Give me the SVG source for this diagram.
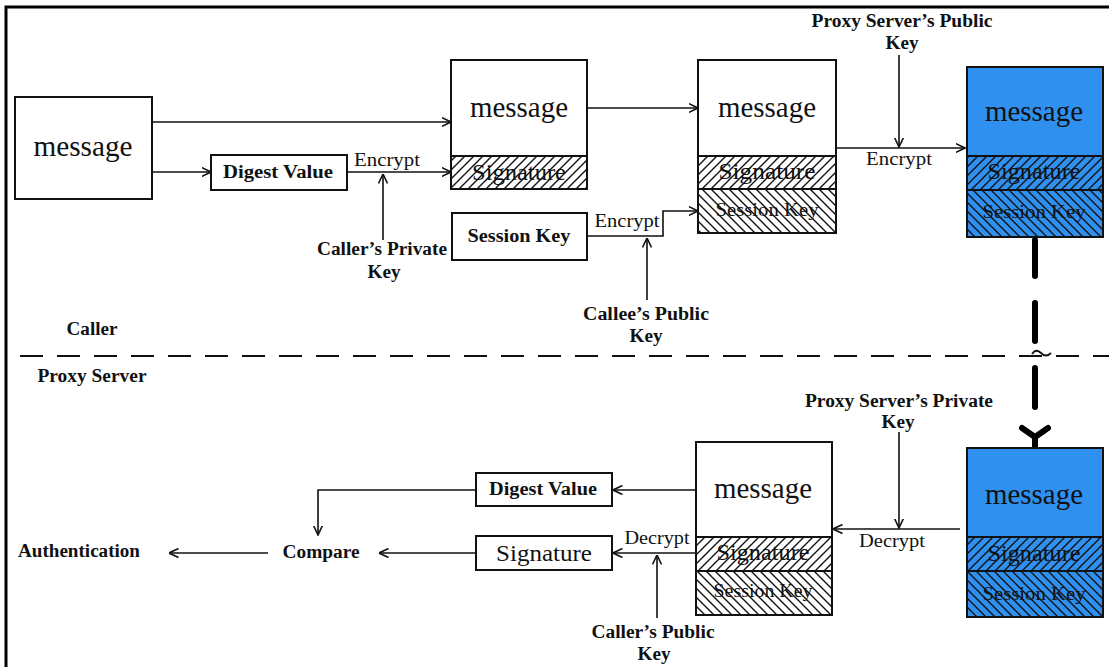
<svg xmlns="http://www.w3.org/2000/svg" width="1109" height="667" viewBox="0 0 1109 667">
<defs>
<style>
.box{fill:#fff;stroke:#111;stroke-width:2}
.blue{fill:#3090f0;stroke:#111;stroke-width:2}
.sep{fill:none;stroke:#111;stroke-width:2}
.ln{fill:none;stroke:#111;stroke-width:1.6}
.t{font-family:"Liberation Serif","Times New Roman",serif;fill:#111;text-anchor:middle}
.big{font-size:30px}
.mid{font-size:23px}
.lab{font-size:18px;font-weight:bold}
.op{font-size:18px}
</style>
<marker id="ah" viewBox="0 0 10 10" refX="9.5" refY="5" markerWidth="10" markerHeight="10" markerUnits="userSpaceOnUse" orient="auto">
<path d="M0,0.5 L9.5,5 L0,9.5" fill="none" stroke="#111" stroke-width="1.6"/>
</marker>
<pattern id="fw" patternUnits="userSpaceOnUse" width="9" height="9">
<path d="M-1,1 L1,-1 M0,9 L9,0 M8,10 L10,8" stroke="#111" stroke-width="1.4"/>
</pattern>
<pattern id="bw" patternUnits="userSpaceOnUse" width="9" height="9">
<path d="M-1,-1 L1,1 M0,0 L9,9 M8,-1 L10,1 M-1,8 L1,10" stroke="#111" stroke-width="1.4"/>
</pattern>
</defs>
<rect width="1109" height="667" fill="#fff"/>
<g id="frame">
<path d="M6,667 L6,7 L1109,7" fill="none" stroke="#000" stroke-width="3"/>
</g>
<g id="lane-divider">
<line x1="20" y1="356" x2="1109" y2="356" stroke="#111" stroke-width="2" stroke-dasharray="23 14"/>
</g>
<g id="lane-labels">
<text class="t lab" x="92" y="335" textLength="51" lengthAdjust="spacingAndGlyphs">Caller</text>
<text class="t lab" x="92" y="382" textLength="109" lengthAdjust="spacingAndGlyphs">Proxy Server</text>
</g>
<g id="connectors">
<line class="ln" x1="152" y1="122" x2="451" y2="122" marker-end="url(#ah)"/>
<line class="ln" x1="152" y1="172" x2="211" y2="172" marker-end="url(#ah)"/>
<line class="ln" x1="347" y1="172" x2="451" y2="172" marker-end="url(#ah)"/>
<line class="ln" x1="383" y1="240" x2="383" y2="174" marker-end="url(#ah)"/>
<polyline class="ln" points="587,236 663,236 663,211 698,211" marker-end="url(#ah)"/>
<line class="ln" x1="647" y1="300" x2="647" y2="238" marker-end="url(#ah)"/>
<line class="ln" x1="587" y1="108" x2="698" y2="108" marker-end="url(#ah)"/>
<line class="ln" x1="836" y1="148" x2="965" y2="148" marker-end="url(#ah)"/>
<line class="ln" x1="899" y1="55" x2="899" y2="147" marker-end="url(#ah)"/>
<line class="ln" x1="960" y1="529" x2="833" y2="529" marker-end="url(#ah)"/>
<line class="ln" x1="899" y1="432" x2="899" y2="528" marker-end="url(#ah)"/>
<line class="ln" x1="696" y1="490" x2="613" y2="490" marker-end="url(#ah)"/>
<polyline class="ln" points="476,490 318,490 318,535" marker-end="url(#ah)"/>
<line class="ln" x1="696" y1="553" x2="613" y2="553" marker-end="url(#ah)"/>
<line class="ln" x1="657" y1="618" x2="657" y2="555" marker-end="url(#ah)"/>
<line class="ln" x1="476" y1="553" x2="379" y2="553" marker-end="url(#ah)"/>
<line class="ln" x1="268" y1="553" x2="169" y2="553" marker-end="url(#ah)"/>
<g id="transfer" stroke="#000" stroke-width="6" stroke-linecap="round" fill="none">
<line x1="1035" y1="240" x2="1035" y2="276"/>
<line x1="1035" y1="303" x2="1035" y2="341"/>
<line x1="1035" y1="368" x2="1035" y2="407"/>
<path d="M1022,428 L1035,437 L1048,428"/>
<line x1="1035" y1="436" x2="1035" y2="447" stroke-linecap="butt"/>
</g>
<path d="M1032,354 Q1036,348 1041,353 Q1046,358 1051,353" fill="none" stroke="#111" stroke-width="1.8"/>
</g>
<g id="key-labels">
<text class="t op" x="387" y="166" textLength="66" lengthAdjust="spacingAndGlyphs">Encrypt</text>
<text class="t lab" x="382" y="255" textLength="130" lengthAdjust="spacingAndGlyphs">Caller’s Private</text>
<text class="t lab" x="384" y="278" textLength="33" lengthAdjust="spacingAndGlyphs">Key</text>
<text class="t op" x="627" y="227" textLength="65" lengthAdjust="spacingAndGlyphs">Encrypt</text>
<text class="t lab" x="646" y="320" textLength="126" lengthAdjust="spacingAndGlyphs">Callee’s Public</text>
<text class="t lab" x="646" y="342" textLength="33" lengthAdjust="spacingAndGlyphs">Key</text>
<text class="t lab" x="902" y="27" textLength="181" lengthAdjust="spacingAndGlyphs">Proxy Server’s Public</text>
<text class="t lab" x="902" y="49" textLength="33" lengthAdjust="spacingAndGlyphs">Key</text>
<text class="t op" x="899" y="165" textLength="66" lengthAdjust="spacingAndGlyphs">Encrypt</text>
<text class="t lab" x="899" y="407" textLength="188" lengthAdjust="spacingAndGlyphs">Proxy Server’s Private</text>
<text class="t lab" x="898" y="428" textLength="33" lengthAdjust="spacingAndGlyphs">Key</text>
<text class="t op" x="892" y="547" textLength="66" lengthAdjust="spacingAndGlyphs">Decrypt</text>
<text class="t op" x="657" y="544" textLength="65" lengthAdjust="spacingAndGlyphs">Decrypt</text>
<text class="t lab" x="653" y="638" textLength="123" lengthAdjust="spacingAndGlyphs">Caller’s Public</text>
<text class="t lab" x="654" y="660" textLength="33" lengthAdjust="spacingAndGlyphs">Key</text>
</g>
<g id="message-caller">
<rect class="box" x="15" y="97" width="137" height="102"/>
<text class="t big" x="83" y="156" textLength="99" lengthAdjust="spacingAndGlyphs">message</text>
</g>
<g id="digest-caller">
<rect class="box" x="211" y="155" width="136" height="35"/>
<text class="t lab" x="278" y="178" textLength="110" lengthAdjust="spacingAndGlyphs">Digest Value</text>
</g>
<g id="session-key">
<rect class="box" x="452" y="213" width="135" height="47"/>
<text class="t lab" x="519" y="242" textLength="103" lengthAdjust="spacingAndGlyphs">Session Key</text>
</g>
<g id="signed-message">
<rect class="box" x="451" y="60" width="136" height="129"/>
<rect x="451" y="156" width="136" height="33" fill="url(#fw)"/>
<line class="sep" x1="451" y1="156" x2="587" y2="156"/>
<rect x="451" y="60" width="136" height="129" fill="none" stroke="#111" stroke-width="2"/>
<text class="t big" x="519" y="117" textLength="98" lengthAdjust="spacingAndGlyphs">message</text>
<text class="t mid" x="519" y="180" textLength="94" lengthAdjust="spacingAndGlyphs">Signature</text>
</g>
<g id="envelope-caller">
<rect class="box" x="698" y="60" width="138" height="173"/>
<rect x="698" y="156" width="138" height="33" fill="url(#fw)"/>
<rect x="698" y="189" width="138" height="44" fill="url(#bw)"/>
<line class="sep" x1="698" y1="156" x2="836" y2="156"/>
<line class="sep" x1="698" y1="189" x2="836" y2="189"/>
<rect x="698" y="60" width="138" height="173" fill="none" stroke="#111" stroke-width="2"/>
<text class="t big" x="767" y="117" textLength="98" lengthAdjust="spacingAndGlyphs">message</text>
<text class="t mid" x="767" y="179" textLength="97" lengthAdjust="spacingAndGlyphs">Signature</text>
<text class="t op" x="767" y="216" textLength="103" lengthAdjust="spacingAndGlyphs">Session Key</text>
</g>
<g id="encrypted-caller">
<rect class="blue" x="967" y="67" width="136" height="170"/>
<rect x="967" y="156" width="136" height="34" fill="url(#fw)"/>
<rect x="967" y="190" width="136" height="47" fill="url(#bw)"/>
<line class="sep" x1="967" y1="156" x2="1103" y2="156"/>
<line class="sep" x1="967" y1="190" x2="1103" y2="190"/>
<rect x="967" y="67" width="136" height="170" fill="none" stroke="#111" stroke-width="2"/>
<text class="t big" x="1034" y="121" textLength="98" lengthAdjust="spacingAndGlyphs">message</text>
<text class="t mid" x="1034" y="179" textLength="93" lengthAdjust="spacingAndGlyphs">Signature</text>
<text class="t op" x="1034" y="218" textLength="103" lengthAdjust="spacingAndGlyphs">Session Key</text>
</g>
<g id="encrypted-proxy">
<rect class="blue" x="967" y="448" width="136" height="169"/>
<rect x="967" y="537" width="136" height="34" fill="url(#fw)"/>
<rect x="967" y="571" width="136" height="46" fill="url(#bw)"/>
<line class="sep" x1="967" y1="537" x2="1103" y2="537"/>
<line class="sep" x1="967" y1="571" x2="1103" y2="571"/>
<rect x="967" y="448" width="136" height="169" fill="none" stroke="#111" stroke-width="2"/>
<text class="t big" x="1034" y="504" textLength="98" lengthAdjust="spacingAndGlyphs">message</text>
<text class="t mid" x="1034" y="561" textLength="93" lengthAdjust="spacingAndGlyphs">Signature</text>
<text class="t op" x="1034" y="600" textLength="103" lengthAdjust="spacingAndGlyphs">Session Key</text>
</g>
<g id="envelope-proxy">
<rect class="box" x="696" y="442" width="136" height="173"/>
<rect x="696" y="537" width="136" height="34" fill="url(#fw)"/>
<rect x="696" y="571" width="136" height="44" fill="url(#bw)"/>
<line class="sep" x1="696" y1="537" x2="832" y2="537"/>
<line class="sep" x1="696" y1="571" x2="832" y2="571"/>
<rect x="696" y="442" width="136" height="173" fill="none" stroke="#111" stroke-width="2"/>
<text class="t big" x="763" y="498" textLength="98" lengthAdjust="spacingAndGlyphs">message</text>
<text class="t mid" x="763" y="560" textLength="93" lengthAdjust="spacingAndGlyphs">Signature</text>
<text class="t op" x="763" y="597" textLength="99" lengthAdjust="spacingAndGlyphs">Session Key</text>
</g>
<g id="digest-proxy">
<rect class="box" x="476" y="473" width="136" height="33"/>
<text class="t lab" x="543" y="495" textLength="108" lengthAdjust="spacingAndGlyphs">Digest Value</text>
</g>
<g id="signature-proxy">
<rect class="box" x="476" y="536" width="136" height="34"/>
<text class="t mid" x="544" y="561" textLength="96" lengthAdjust="spacingAndGlyphs">Signature</text>
</g>
<g id="compare">
<text class="t lab" x="321" y="558" textLength="77" lengthAdjust="spacingAndGlyphs">Compare</text>
</g>
<g id="authentication">
<text class="t lab" x="79" y="557" textLength="122" lengthAdjust="spacingAndGlyphs">Authentication</text>
</g>
</svg>
